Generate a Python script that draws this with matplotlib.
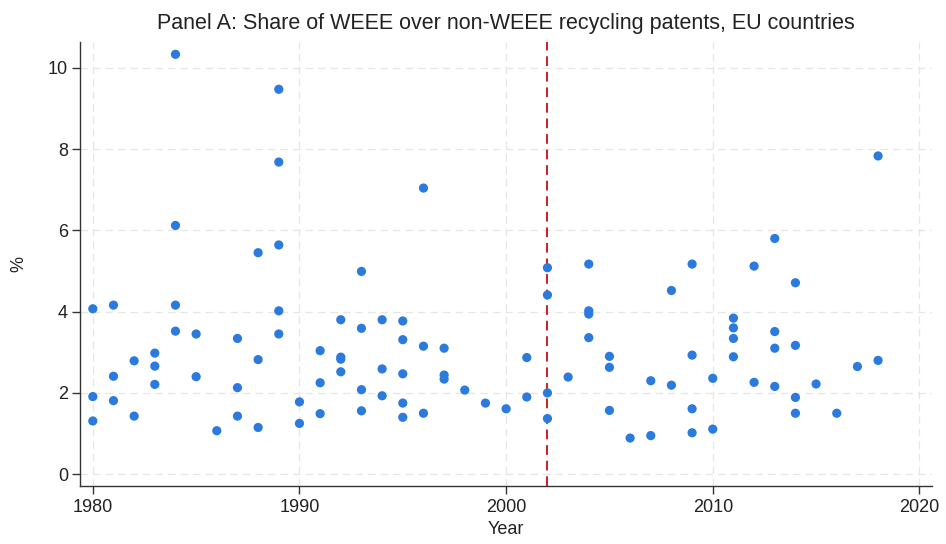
import matplotlib
matplotlib.use("Agg")
import matplotlib.pyplot as plt

plt.rcParams['font.family'] = ['Liberation Sans', 'DejaVu Sans']

# Share of WEEE over non-WEEE recycling patents (%), one point per country-year
years = [
    1980, 1980, 1980,
    1981, 1981, 1981,
    1982, 1982,
    1983, 1983, 1983,
    1984, 1984, 1984, 1984,
    1985, 1985,
    1986,
    1987, 1987, 1987,
    1988, 1988, 1988,
    1989, 1989, 1989, 1989, 1989,
    1990, 1990,
    1991, 1991, 1991,
    1992, 1992, 1992, 1992,
    1993, 1993, 1993, 1993,
    1994, 1994, 1994,
    1995, 1995, 1995, 1995, 1995,
    1996, 1996, 1996,
    1997, 1997, 1997,
    1998,
    1999,
    2000,
    2001, 2001,
    2002, 2002, 2002, 2002,
    2003,
    2004, 2004, 2004, 2004,
    2005, 2005, 2005,
    2006,
    2007, 2007,
    2008, 2008,
    2009, 2009, 2009, 2009,
    2010, 2010,
    2011, 2011, 2011, 2011,
    2012, 2012,
    2013, 2013, 2013, 2013,
    2014, 2014, 2014, 2014,
    2015,
    2016,
    2017,
    2018, 2018,
]
shares = [
    4.07, 1.91, 1.31,
    4.16, 2.41, 1.81,
    2.79, 1.43,
    2.98, 2.66, 2.21,
    10.33, 6.12, 4.16, 3.52,
    3.45, 2.40,
    1.07,
    3.34, 2.13, 1.43,
    5.45, 2.82, 1.15,
    9.47, 7.68, 5.64, 4.02, 3.45,
    1.78, 1.25,
    3.04, 2.25, 1.49,
    3.80, 2.88, 2.83, 2.52,
    4.99, 3.59, 2.08, 1.56,
    3.80, 2.59, 1.93,
    3.77, 3.31, 2.47, 1.75, 1.40,
    7.04, 3.15, 1.50,
    3.10, 2.44, 2.34,
    2.07,
    1.75,
    1.61,
    2.87, 1.90,
    5.08, 4.41, 2.00, 1.37,
    2.39,
    5.17, 4.02, 3.94, 3.36,
    2.90, 2.63, 1.57,
    0.89,
    2.30, 0.95,
    4.52, 2.19,
    5.17, 2.93, 1.61, 1.02,
    2.36, 1.11,
    3.84, 3.60, 3.34, 2.89,
    5.12, 2.26,
    5.80, 3.51, 3.10, 2.16,
    4.71, 3.17, 1.89, 1.50,
    2.22,
    1.50,
    2.65,
    7.83, 2.80,
]

policy_year = 2002
x_ticks = [1980, 1990, 2000, 2010, 2020]
y_ticks = [0, 2, 4, 6, 8, 10]

fig = plt.figure(figsize=(9.46, 5.44), dpi=100)
ax = fig.add_axes([0.0850, 0.1066, 0.9000, 0.8167])

ax.set_xlim(1979.4, 2020.6)
ax.set_ylim(-0.29, 10.64)

ax.set_xticks(x_ticks)
ax.set_yticks(y_ticks)
ax.grid(True, color='#e6e6e6', linestyle=(0, (6, 4)), linewidth=0.9)
ax.set_axisbelow(True)

ax.scatter(years, shares, s=44, color='#2b7bde', edgecolors='none', zorder=3)
ax.axvline(policy_year, color='#cc1f1f', linestyle=(0, (5, 3)), linewidth=1.4, zorder=2)

for side in ('top', 'right'):
    ax.spines[side].set_visible(False)
for side in ('left', 'bottom'):
    ax.spines[side].set_color('#333333')
    ax.spines[side].set_linewidth(1.0)

ax.tick_params(axis='both', direction='out', length=6, width=1, color='#333333',
               labelsize=13, labelcolor='#222222', pad=3)

ax.set_xlabel('Year', fontsize=13, color='#222222', labelpad=4)
ax.set_ylabel('%', fontsize=13, color='#222222', labelpad=15)
ax.set_title('Panel A: Share of WEEE over non-WEEE recycling patents, EU countries',
             fontsize=15.5, color='#222222', pad=9)

fig.savefig('out.png', dpi=100)
